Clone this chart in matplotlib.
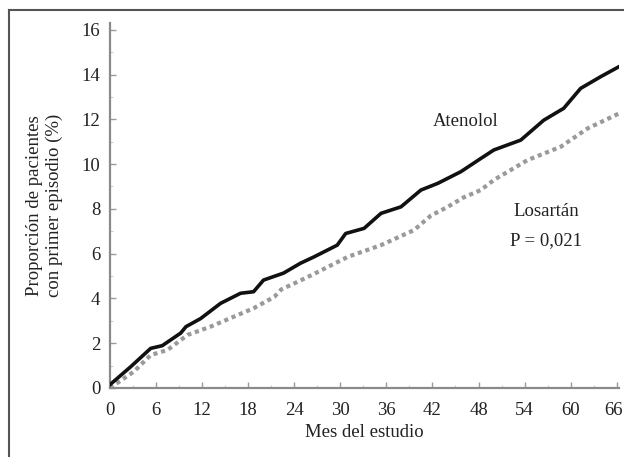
import matplotlib
matplotlib.use("Agg")
import matplotlib.pyplot as plt
from matplotlib.ticker import MultipleLocator
from matplotlib.lines import Line2D
from matplotlib.transforms import ScaledTranslation

# Data
aten_months = [0, 2.7, 5.3, 6.8, 9.2, 9.9, 11.8, 14.4, 17.0, 18.7, 20.0, 22.6, 24.8,
               26.6, 29.6, 30.7, 33.1, 35.3, 37.9, 40.5, 42.7, 45.7, 48.3, 50.0,
               53.5, 56.5, 59.1, 61.3, 63.9, 66.3]
aten_vals = [0.15, 0.95, 1.77, 1.89, 2.45, 2.74, 3.1, 3.78, 4.23, 4.3, 4.82, 5.13, 5.57,
             5.86, 6.38, 6.9, 7.13, 7.8, 8.09, 8.84, 9.14, 9.66, 10.25, 10.63,
             11.07, 11.96, 12.49, 13.38, 13.9, 14.35]

los_months = [0, 3.1, 5.3, 7.5, 10.1, 13.1, 16.1, 18.7, 21.4, 22.3, 24.8, 26.6, 31.0,
              35.3, 39.6, 41.8, 44.0, 46.0, 48.3, 50.0, 54.4, 58.7, 62.2, 66.3]
los_vals = [0.0, 0.73, 1.47, 1.7, 2.37, 2.74, 3.18, 3.56, 4.07, 4.4, 4.8, 5.1, 5.86,
            6.38, 7.05, 7.7, 8.09, 8.5, 8.84, 9.29, 10.18, 10.77, 11.59, 12.26]

x_ticks = [0, 6, 12, 18, 24, 30, 36, 42, 48, 54, 60, 66]
y_ticks = [0, 2, 4, 6, 8, 10, 12, 14, 16]

plt.rcParams['font.family'] = ['Liberation Serif', 'DejaVu Serif']

fig = plt.figure(figsize=(6.24, 4.57), dpi=100)
ax = fig.add_axes([110/624, 1 - 388/457, 509/624, (388 - 23)/457])

ax.plot(los_months, los_vals, color='#9a9a9a', lw=3.0, linestyle=(0, (1.0, 0.9)),
        solid_capstyle='butt', dash_capstyle='butt', zorder=2)
ax.plot(aten_months, aten_vals, color='#111111', lw=2.6, zorder=3)

ax.set_xlim(0, 66.3)
ax.set_ylim(0, 16.3)
ax.set_xticks(x_ticks)
ax.set_yticks(y_ticks)
ax.xaxis.set_minor_locator(MultipleLocator(3))
ax.yaxis.set_minor_locator(MultipleLocator(1))

for s in ['top', 'right']:
    ax.spines[s].set_visible(False)
for s in ['left', 'bottom']:
    ax.spines[s].set_color('#8a8a8a')
    ax.spines[s].set_linewidth(1.6)

ax.tick_params(axis='both', which='major', direction='in', length=4, width=1.0,
               color='#9a9a9a', labelsize=13.5, labelcolor='#222222')
ax.tick_params(axis='both', which='minor', direction='in', length=2, width=0.8,
               color='#cccccc')
ax.tick_params(axis='x', which='major', pad=10)
ax.tick_params(axis='y', which='major', pad=7)

# nudge the last x tick label so it stays inside the figure
last = ax.xaxis.get_major_ticks()[-1].label1
last.set_transform(last.get_transform() + ScaledTranslation(-3/100, 0, fig.dpi_scale_trans))

ax.set_xlabel('Mes del estudio', fontsize=13.5, color='#222222', labelpad=4)
ax.set_ylabel('Proporción de pacientes\ncon primer episodio (%)', fontsize=13.5,
              color='#222222', labelpad=13, linespacing=1.25)

ax.text(46.3, 11.9, 'Atenolol', fontsize=13.5, ha='center', va='center', color='#222222')
ax.text(56.8, 7.86, 'Losartán', fontsize=13.5, ha='center', va='center', color='#222222')
ax.text(56.8, 6.6, 'P = 0,021', fontsize=13.5, ha='center', va='center', color='#222222')

# Outer frame (left and top edges)
fig.add_artist(Line2D([9/624, 9/624], [0, 1 - 10/457], transform=fig.transFigure,
                      color='#555555', lw=1.5))
fig.add_artist(Line2D([9/624, 1], [1 - 10/457, 1 - 10/457], transform=fig.transFigure,
                      color='#555555', lw=1.5))

fig.savefig('out.png', dpi=100)
